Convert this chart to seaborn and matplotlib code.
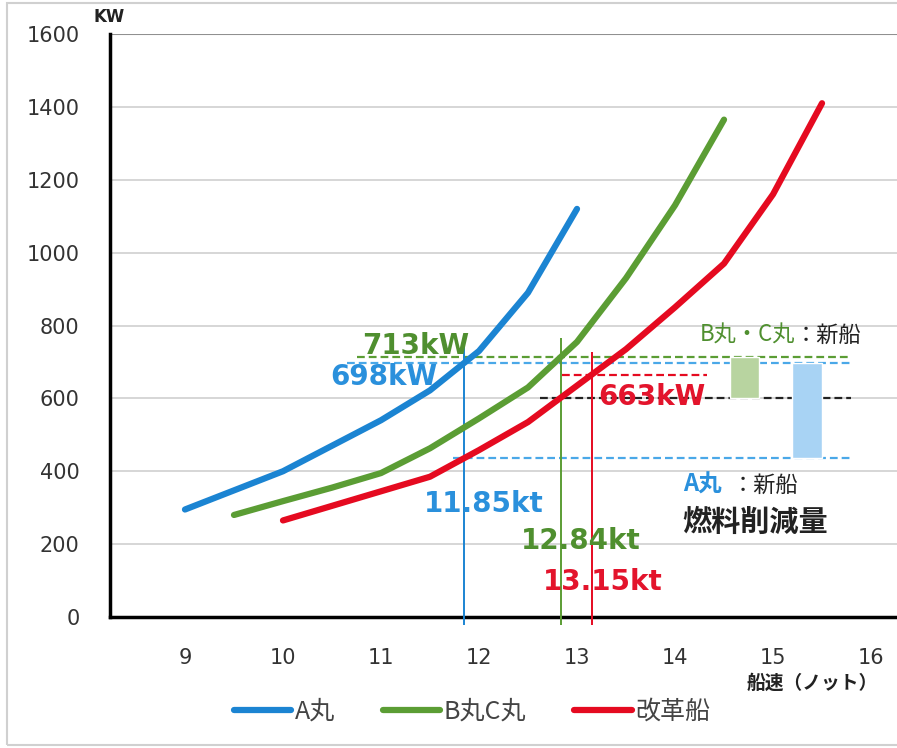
import numpy as np
import pandas as pd
import matplotlib
matplotlib.use("Agg")
import matplotlib.pyplot as plt
import seaborn as sns
from matplotlib.lines import Line2D
from matplotlib.patches import Rectangle

# Ship speed (knots) vs. engine power (kW)
ships = ["A丸", "B丸C丸", "改革船"]
speed_a = [9, 10, 11, 11.5, 12, 12.5, 13]
power_a = [295, 400, 540, 622, 730, 890, 1120]
speed_bc = [9.5, 10, 10.5, 11, 11.5, 12, 12.5, 13, 13.5, 14, 14.5]
power_bc = [280, 318, 355, 395, 463, 545, 630, 755, 930, 1130, 1365]
speed_new = [10, 10.5, 11, 11.5, 12, 12.5, 13, 13.5, 14, 14.5, 15, 15.5]
power_new = [265, 305, 345, 385, 458, 535, 635, 735, 850, 970, 1160, 1410]

# Operating points: speed and power for each ship at the same fuel budget
op_speed = [11.85, 12.84, 13.15]
op_power = [698, 713, 663]
# Power the new ship needs at the A丸 and B丸C丸 operating speeds
new_at_a = 436
new_at_bc = 600

colors = ["#1b84d2", "#5b9d34", "#e50a20"]
text_colors = ["#2a90dc", "#4f8f2f", "#e3142c"]

df = pd.concat([
    pd.DataFrame({"speed": speed_a, "power": power_a, "ship": ships[0]}),
    pd.DataFrame({"speed": speed_bc, "power": power_bc, "ship": ships[1]}),
    pd.DataFrame({"speed": speed_new, "power": power_new, "ship": ships[2]}),
])

sns.set_theme(style="white")
plt.rcParams["font.family"] = ["DejaVu Sans", "Noto Sans CJK JP"]

fig = plt.figure(figsize=(8.97, 7.48), dpi=100)
ax = fig.add_axes([110 / 897, 131 / 748, 787 / 897, 583 / 748])

sns.lineplot(data=df, x="speed", y="power", hue="ship", hue_order=ships,
             palette=colors, linewidth=4.5, legend=False, ax=ax,
             estimator=None, sort=False, solid_capstyle="round", zorder=5)

ax.set_xlim(8.235, 16.265)
ax.set_ylim(0, 1600)
ax.set_xlabel("")
ax.set_ylabel("")

# Axes styling
ax.set_yticks(range(0, 1601, 200))
ax.yaxis.grid(True, color="#cfcfcf", lw=1.2)
ax.set_axisbelow(True)
ax.axhline(1600, color="#909090", lw=1.5, zorder=1)
for side in ("top", "right"):
    ax.spines[side].set_visible(False)
for side in ("left", "bottom"):
    ax.spines[side].set_color("black")
    ax.spines[side].set_linewidth(2.5)
ax.set_xticks(range(9, 17))
ax.set_xticks(np.arange(8.5, 16.3, 1.0), minor=True)
ax.tick_params(axis="x", which="both", direction="in", length=6, width=1.5,
               color="black", pad=22, labelsize=15, labelcolor="#333333")
ax.tick_params(axis="y", length=0, pad=22, labelsize=15, labelcolor="#333333")

# Operating speed markers
for s, p, c, top in zip(op_speed, op_power, colors, [774, 766, 727]):
    ax.vlines(s, -22, top, colors=c, lw=1.4, clip_on=False, zorder=4)

dash = (0, (3.5, 1.8))
ax.hlines(op_power[1], 10.76, 15.8, colors=colors[1], linestyles=dash, lw=1.6, zorder=3)
ax.hlines(op_power[0], 10.65, 15.8, colors="#4aa8e8", linestyles=dash, lw=1.6, zorder=3)
ax.hlines(op_power[2], 12.85, 14.33, colors=colors[2], linestyles=dash, lw=1.6, zorder=3)
ax.hlines(new_at_bc, 12.62, 15.8, colors="#222222", linestyles=dash, lw=1.6, zorder=3)
ax.hlines(new_at_a, 11.73, 15.8, colors="#4aa8e8", linestyles=dash, lw=1.6, zorder=3)

# Fuel reduction bars
ax.bar([14.71], [op_power[1] - new_at_bc], bottom=[new_at_bc], width=0.30,
       color="#b8d4a0", zorder=4)
ax.bar([15.345], [op_power[0] - new_at_a], bottom=[new_at_a], width=0.31,
       color="#a8d3f4", zorder=4)

# Value annotations
bold = dict(fontsize=20, fontweight="bold", va="center", ha="left", zorder=6,
            family="DejaVu Sans")
ax.text(10.806, 744, "713kW", color=text_colors[1], **bold)
ax.text(10.48, 658, "698kW", color=text_colors[0], **bold)
ax.text(13.214, 604, "663kW", color=text_colors[2], **bold)
ax.text(11.439, 310, "11.85kt", color=text_colors[0], **bold)
ax.text(12.43, 208, "12.84kt", color=text_colors[1], **bold)
ax.text(12.653, 96, "13.15kt", color=text_colors[2], **bold)

cjk = ["Noto Sans CJK JP", "DejaVu Sans"]
ax.text(14.255, 774, "B丸・C丸", color=text_colors[1], fontsize=16,
        va="center", ha="left", family=cjk)
ax.text(15.22, 774, "：新船", color="#222222", fontsize=16,
        va="center", ha="left", family=cjk)
ax.text(14.08, 362, "A丸", color=text_colors[0], fontsize=17, fontweight="bold",
        va="center", ha="left", family=cjk)
ax.text(14.58, 362, "：新船", color="#222222", fontsize=16,
        va="center", ha="left", family=cjk)
ax.text(14.08, 261, "燃料削減量", color="#222222", fontsize=21, fontweight="bold",
        va="center", ha="left", family=cjk)

fig.text(93 / 897, 1 - 17 / 748, "KW", fontsize=12, fontweight="bold",
         va="center", ha="left", color="#222222")
fig.text(878 / 897, 1 - 683 / 748, "船速（ノット）", fontsize=13.5,
         fontweight="bold", va="center", ha="right", color="#222222", family=cjk)

handles = [Line2D([0], [0], color=c, lw=4.5, solid_capstyle="round") for c in colors]
leg = fig.legend(handles, ships, loc="center", bbox_to_anchor=(472 / 897, 1 - 712 / 748),
                 ncol=3, frameon=False, handlelength=2.3, handletextpad=0.15,
                 columnspacing=1.9, prop={"family": cjk, "size": 18})
for t in leg.get_texts():
    t.set_color("#444444")

# Outer frame
fig.patches.append(Rectangle((7 / 897, 3 / 748), 1.2, 742 / 748, transform=fig.transFigure,
                             fill=False, ec="#d0d0d0", lw=1.5))

fig.savefig("out.png", dpi=100)
